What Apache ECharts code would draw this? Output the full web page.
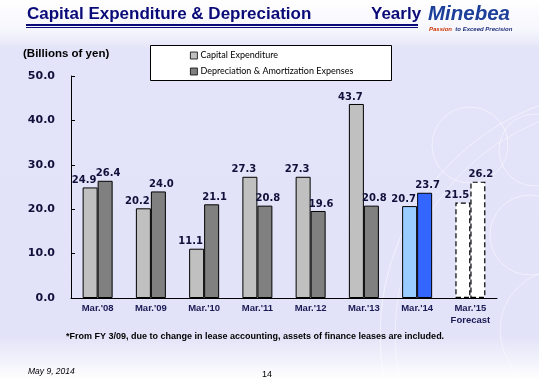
<!DOCTYPE html>
<html>
<head>
<meta charset="utf-8">
<script src="https://cdn.jsdelivr.net/npm/echarts@6/dist/echarts.min.js"></script>
<style>
html,body{margin:0;padding:0;background:#fff;}
#chart{width:539px;height:380px;}
</style>
</head>
<body>
<div id="chart"></div>
<script>
const categories = ["Mar.'08", "Mar.'09", "Mar.'10", "Mar.'11", "Mar.'12", "Mar.'13", "Mar.'14", "Mar.'15\nForecast"];
const capitalExpenditure = [24.9, 20.2, 11.1, 27.3, 27.3, 43.7, 20.7, 21.5];
const depreciation = [26.4, 24.0, 21.1, 20.8, 19.6, 20.8, 23.7, 26.2];
const yTicks = [0, 10, 20, 30, 40, 50];

const chart = echarts.init(document.getElementById('chart'), null, {renderer: 'canvas'});

const labelColor = '#10103a';
function buildItems(values, seriesIdx) {
  return values.map((v, i) => {
    const item = {value: v};
    if (i === 6) {
      item.itemStyle = {color: seriesIdx === 0 ? '#99CCFF' : '#3366FF', borderColor: '#000', borderWidth: 1};
    } else if (i === 7) {
      item.itemStyle = {color: '#FFFFFF', borderColor: '#000', borderWidth: 1.2, borderType: [5, 3]};
    }
    return item;
  });
}

const navy = '#0a0a78';
const option = {
  backgroundColor: {
    type: 'linear', x: 0, y: 0, x2: 0, y2: 1,
    colorStops: [
      {offset: 0, color: '#ffffff'},
      {offset: 0.08, color: '#f6f6fd'},
      {offset: 0.13, color: '#e3e3f9'},
      {offset: 0.88, color: '#e2e2f8'},
      {offset: 0.95, color: '#f2f2fc'},
      {offset: 1, color: '#ffffff'}
    ]
  },
  animation: false,
  textStyle: {fontFamily: 'DejaVu Sans'},
  graphic: [
    {type: 'circle', silent: true, z: 0, shape: {cx: 625, cy: 335, r: 245}, style: {fill: null, stroke: 'rgba(255,255,255,0.55)', lineWidth: 1}},
    {type: 'circle', silent: true, z: 0, shape: {cx: 625, cy: 335, r: 230}, style: {fill: null, stroke: 'rgba(255,255,255,0.45)', lineWidth: 1}},
    {type: 'circle', silent: true, z: 0, shape: {cx: 470, cy: 145, r: 38}, style: {fill: null, stroke: 'rgba(255,255,255,0.5)', lineWidth: 1}},
    {type: 'circle', silent: true, z: 0, shape: {cx: 535, cy: 150, r: 36}, style: {fill: null, stroke: 'rgba(255,255,255,0.5)', lineWidth: 1}},
    {type: 'circle', silent: true, z: 0, shape: {cx: 530, cy: 235, r: 40}, style: {fill: null, stroke: 'rgba(255,255,255,0.5)', lineWidth: 1}},
    {type: 'circle', silent: true, z: 0, shape: {cx: 560, cy: 330, r: 60}, style: {fill: null, stroke: 'rgba(255,255,255,0.45)', lineWidth: 1}},
    // title
    {type: 'text', left: 27, top: 6, style: {text: 'Capital Expenditure & Depreciation', font: 'bold 17px "Liberation Sans", Arial', fill: navy}},
    {type: 'text', left: 371, top: 6, style: {text: 'Yearly', font: 'bold 17px "Liberation Sans", Arial', fill: navy}},
    {type: 'rect', shape: {x: 26, y: 24, width: 392, height: 2}, style: {fill: navy}},
    {type: 'rect', shape: {x: 26, y: 27, width: 392, height: 1}, style: {fill: navy}},
    // logo
    {type: 'text', left: 428, top: 4, style: {text: 'Minebea', font: 'italic 900 20.5px "Liberation Sans", Arial', fill: '#1c3f9a'}},
    {type: 'text', left: 429, top: 23, style: {rich: {r: {fill: '#cc3300', font: 'italic bold 6px "Liberation Sans", Arial'}, n: {fill: '#1c2f7a', font: 'italic bold 6px "Liberation Sans", Arial'}}, text: '{r|Passion} {n|to Exceed Precision}'}},
    // y axis name
    {type: 'text', left: 23, top: 48, style: {text: '(Billions of yen)', font: 'bold 11.5px "Liberation Sans", Arial', fill: '#000'}},
    // legend box
    {type: 'rect', z: 1, shape: {x: 150.5, y: 45.5, width: 241, height: 35}, style: {fill: '#ffffff', stroke: '#000', lineWidth: 1}},
    // footnote
    {type: 'text', left: 66, top: 332, style: {text: '*From FY 3/09, due to change in lease accounting, assets of finance leases are included.', font: 'bold 9px "Liberation Sans", Arial', fill: '#000'}},
    {type: 'text', left: 28, top: 367, style: {text: 'May 9, 2014', font: 'italic 8.5px "Liberation Sans", Arial', fill: '#000'}},
    {type: 'text', left: 262, top: 370, style: {text: '14', font: '9px "Liberation Sans", Arial', fill: '#000'}}
  ],
  legend: {
    orient: 'vertical',
    left: 190, top: 51, padding: 0,
    itemWidth: 7, itemHeight: 7, itemGap: 7,
    icon: 'rect',
    z: 5,
    itemStyle: {borderColor: '#000', borderWidth: 0.8},
    textStyle: {fontFamily: 'Lato', fontSize: 9, color: '#000', padding: [0, 0, 0, -2]},
    data: ['Capital Expenditure', 'Depreciation & Amortization Expenses']
  },
  grid: {left: 71, right: 42, top: 76, bottom: 82},
  xAxis: {
    type: 'category',
    data: categories,
    axisLine: {lineStyle: {color: '#000', width: 1}},
    axisTick: {length: 4, lineStyle: {color: '#000'}},
    axisLabel: {interval: 0, margin: 4, fontFamily: '"Liberation Sans", Arial', fontWeight: 'bold', fontSize: 9.5, color: '#1a1a55', lineHeight: 12}
  },
  yAxis: {
    type: 'value', min: 0, max: 50, interval: 10,
    axisLine: {show: true, lineStyle: {color: '#000', width: 1}},
    axisTick: {show: true, inside: true, length: 4, lineStyle: {color: '#000'}},
    splitLine: {show: false},
    axisLabel: {margin: 16, fontFamily: 'DejaVu Sans', fontWeight: 'bold', fontSize: 11, color: '#10103a',
      formatter: v => v.toFixed(1)}
  },
  series: [
    {
      name: 'Capital Expenditure', type: 'bar', barWidth: 15, barGap: '0%',
      itemStyle: {color: '#C0C0C0', borderColor: '#000', borderWidth: 1},
      label: {show: true, position: 'top', distance: 2, offset: [-6, 0], fontFamily: 'DejaVu Sans', fontWeight: 'bold', fontSize: 10, color: labelColor, formatter: p => p.value.toFixed(1)},
      data: buildItems(capitalExpenditure, 0)
    },
    {
      name: 'Depreciation & Amortization Expenses', type: 'bar', barWidth: 15,
      itemStyle: {color: '#808080', borderColor: '#000', borderWidth: 1},
      label: {show: true, position: 'top', distance: 2, offset: [3, 0], fontFamily: 'DejaVu Sans', fontWeight: 'bold', fontSize: 10, color: labelColor, formatter: p => p.value.toFixed(1)},
      data: buildItems(depreciation, 1)
    }
  ]
};
chart.setOption(option);
</script>
</body>
</html>
